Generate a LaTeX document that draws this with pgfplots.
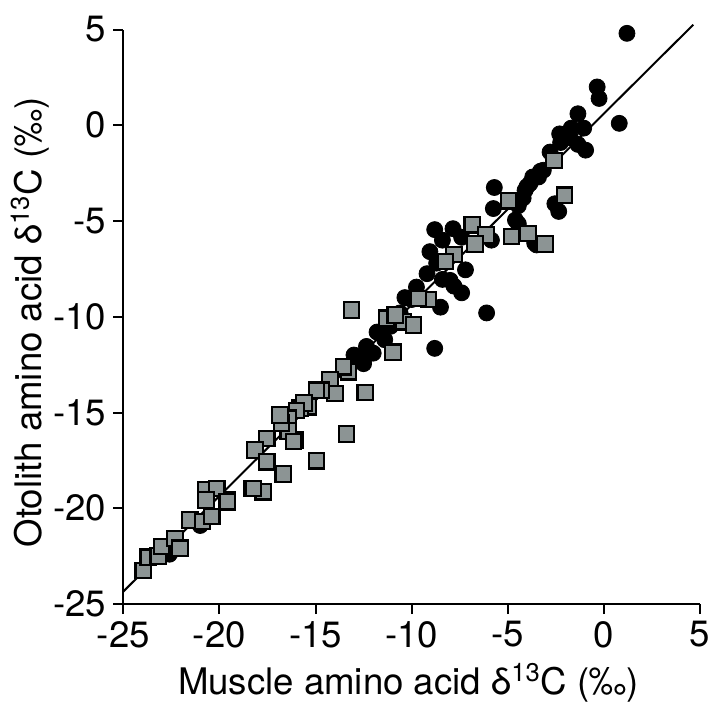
\documentclass[border=0pt]{standalone}
\usepackage{fontspec}
\setmainfont{TeX Gyre Heros}
\usepackage{pgfplots}
\pgfplotsset{compat=1.18}
\definecolor{sqgrey}{RGB}{140,148,148}
\begin{document}
\begin{tikzpicture}
\useasboundingbox (-61.65pt,-52pt) rectangle (294.35pt,302pt);
\begin{axis}[
  scale only axis, width=288.35pt, height=287.25pt,
  xmin=-25, xmax=5, ymin=-25, ymax=5,
  axis x line*=bottom, axis y line*=left,
  axis line style={-, line width=1pt},
  xtick={-25,-20,...,5}, ytick={-25,-20,...,5},
  tick align=outside, major tick length=5pt,
  tick style={line width=1pt, black},
  font=\fontsize{18.3}{21}\selectfont,
  /pgf/number format/assume math mode=true,
  xlabel={Muscle amino acid δ\textsuperscript{13}C (‰)},
  ylabel={Otolith amino acid δ\textsuperscript{13}C (‰)},
  every axis x label/.style={at={(axis description cs:0.494,-0.1375)}, anchor=center},
  every axis y label/.style={at={(axis description cs:-0.162,0.49)}, anchor=center, rotate=90},
  clip=false,
]
\addplot[black, line width=1pt] coordinates {(-25,-24.35) (4.65,5.25)};
% black circles
\addplot[only marks, mark=*, mark size=4pt, black, mark options={fill=black}] coordinates {
(1.2,4.8) (-0.35,2.0) (-0.25,1.4) (-1.35,0.6) (0.8,0.1)
(-2.3,-0.45) (-1.7,-0.15) (-1.05,-0.15) (-2.25,-0.9) (-1.75,-0.65)
(-0.95,-1.3) (-1.35,-1.0) (-2.8,-1.4) (-3.15,-2.35) (-3.4,-2.7)
(-3.85,-3.05) (-4.1,-3.4) (-3.3,-2.4) (-4.2,-3.8) (-4.45,-4.2)
(-4.0,-3.2) (-3.7,-2.7)
(-2.55,-4.1) (-2.35,-4.5) (-5.7,-3.25) (-5.75,-4.35) (-4.6,-4.95)
(-4.45,-5.15) (-3.5,-6.25) (-3.6,-6.15) (-8.8,-5.45) (-7.85,-5.4)
(-8.4,-6.0) (-7.4,-5.85) (-5.85,-6.0) (-9.05,-6.6) (-8.7,-7.2)
(-7.2,-7.55) (-8.4,-8.05) (-7.8,-8.4) (-7.4,-8.75) (-9.2,-7.75)
(-8.0,-8.1) (-10.35,-9.0)
(-9.75,-8.45) (-10.0,-9.1) (-9.2,-9.1) (-8.5,-9.5) (-10.6,-9.8)
(-11.1,-10.5) (-6.1,-9.8) (-8.8,-11.65) (-11.8,-10.8) (-11.4,-11.2)
(-12.35,-11.55) (-12.0,-11.9) (-13.0,-12.0) (-12.5,-12.25) (-12.5,-12.45)
(-22.6,-22.4) (-22.3,-22.1) (-21.0,-20.9)
};
% grey squares
\addplot[only marks, mark=square*, mark size=3.85pt, mark options={fill=sqgrey, draw=black, line width=1.1pt}] coordinates {
(-2.6,-1.85) (-2.05,-3.65) (-4.97,-3.94) (-4.8,-5.8) (-3.95,-5.65)
(-3.06,-6.2) (-6.85,-5.2) (-6.13,-5.73) (-6.7,-6.2) (-7.8,-6.75)
(-8.23,-7.12) (-9.13,-9.09) (-9.65,-9.04) (-10.43,-10.26) (-9.91,-10.43)
(-11.3,-10.08) (-10.86,-9.91) (-10.97,-11.85) (-13.12,-9.65) (-13.29,-12.87)
(-13.55,-12.61) (-14.25,-13.3) (-13.99,-14.0) (-14.68,-13.83) (-12.42,-13.95)
(-13.38,-16.12) (-14.94,-17.52) (-14.94,-13.83) (-15.37,-14.7) (-15.81,-14.78)
(-15.6,-14.5) (-16.0,-14.9)
(-16.42,-15.3) (-16.07,-16.44) (-16.42,-15.97) (-17.54,-16.35) (-18.15,-16.96)
(-17.54,-17.57) (-16.68,-18.21) (-18.32,-18.96) (-17.72,-19.14) (-19.62,-19.57)
(-16.76,-15.56) (-16.85,-15.13) (-16.15,-16.52)
(-23.96,-23.26) (-23.7,-22.56) (-23.18,-22.49) (-23.0,-22.0) (-22.31,-21.57)
(-22.05,-22.09) (-21.53,-20.61) (-20.87,-20.7) (-20.7,-19.05) (-20.14,-18.96)
(-20.7,-19.57) (-19.59,-19.66) (-20.4,-20.44) (-18.24,-18.96)
};
\end{axis}
\end{tikzpicture}
\end{document}
